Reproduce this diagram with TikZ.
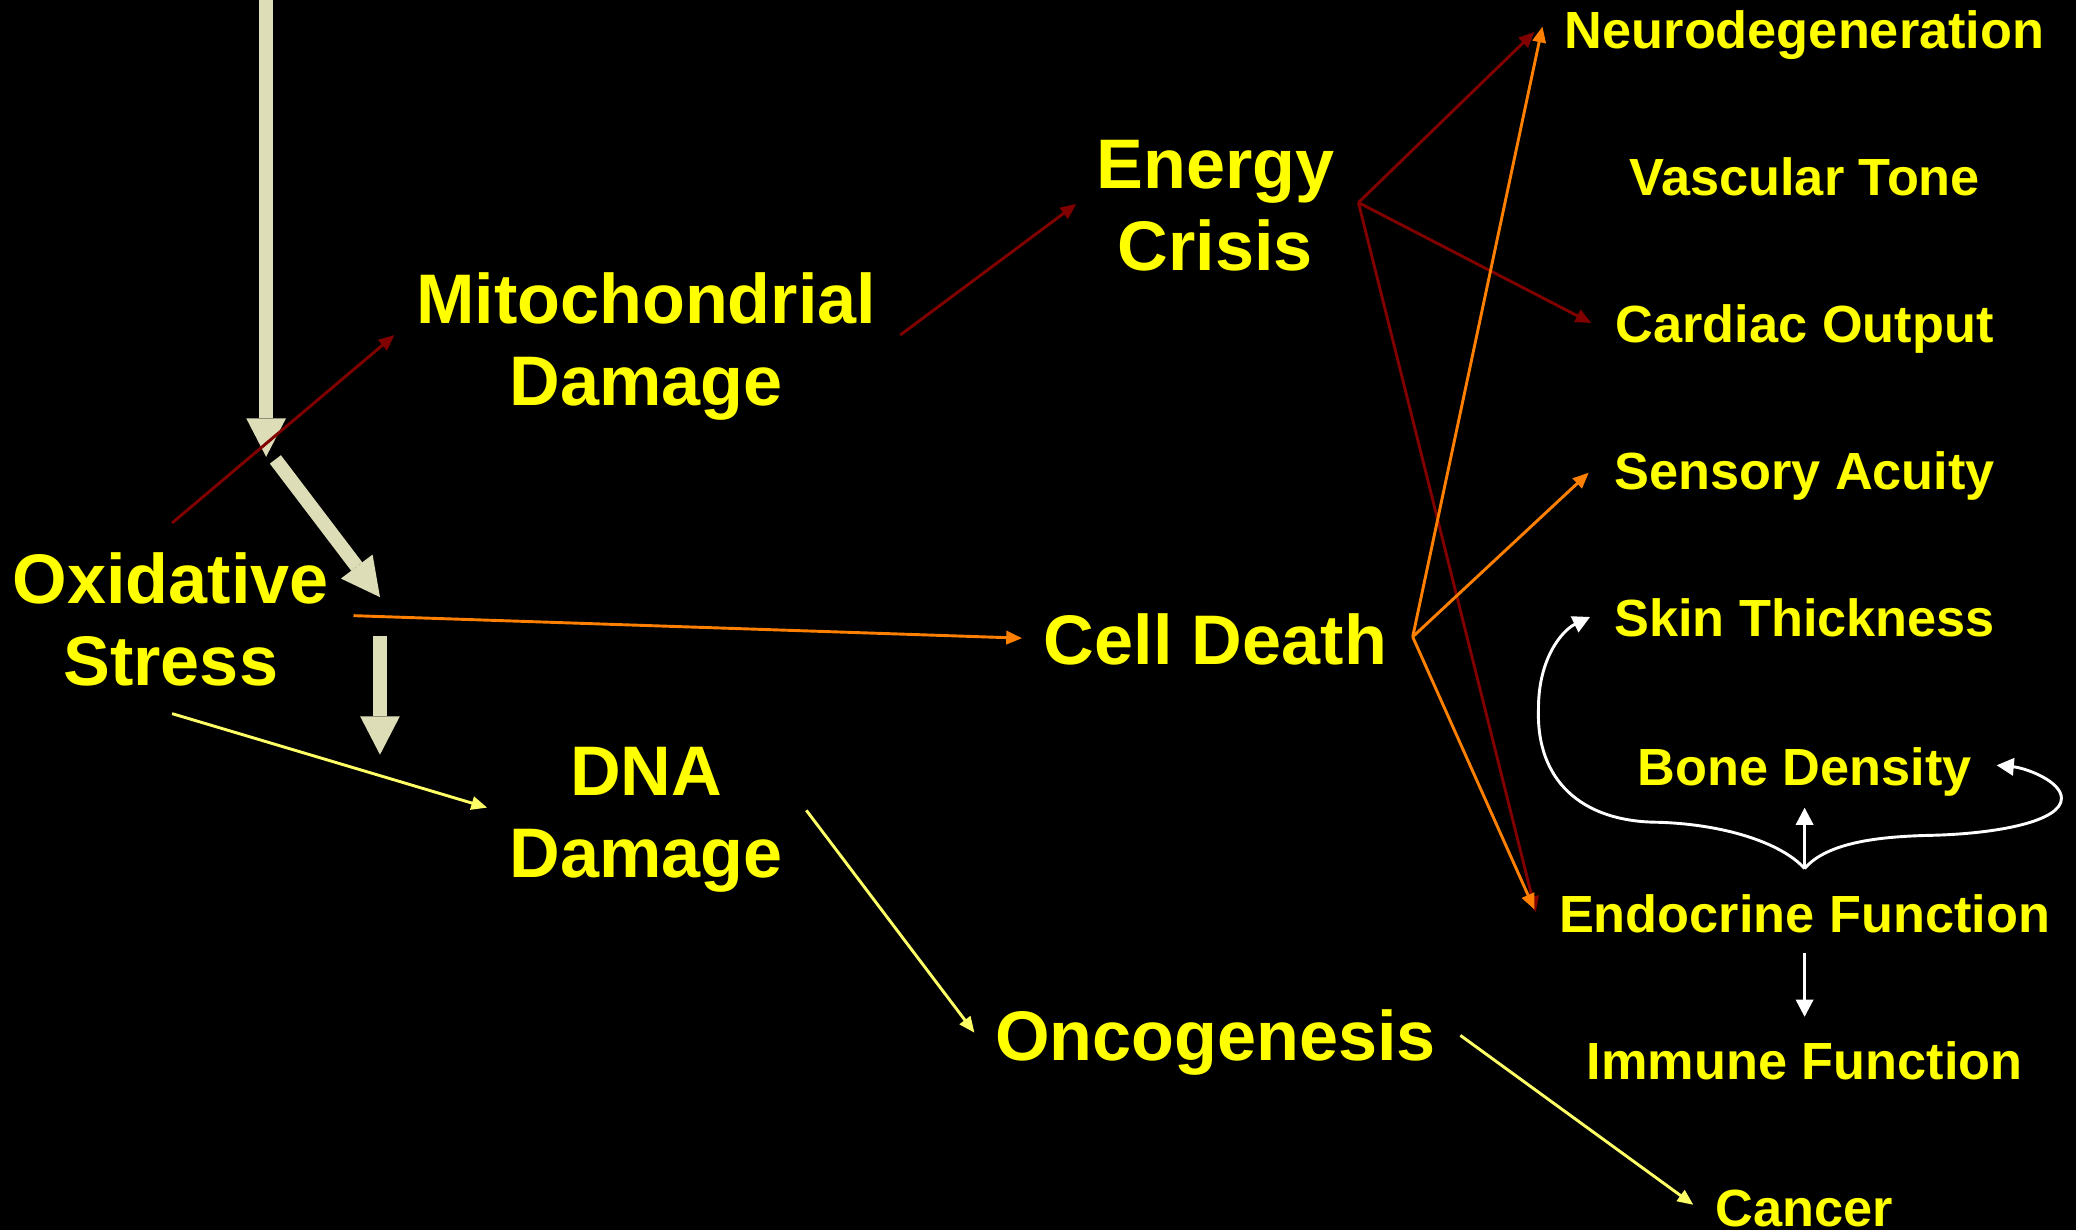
\documentclass[tikz,border=0pt]{standalone}
\usepackage{fontspec}
\setmainfont{Liberation Sans}
\usetikzlibrary{arrows.meta}
\definecolor{dred}{RGB}{128,0,0}
\definecolor{orng}{RGB}{255,128,0}
\definecolor{pyel}{RGB}{255,255,102}
\definecolor{beige}{RGB}{221,221,184}
\definecolor{txt}{RGB}{255,255,0}
\tikzset{
  biglab/.style={text=txt, font=\bfseries\fontsize{53}{62}\selectfont, align=center, anchor=base, inner sep=0pt},
  smalllab/.style={text=txt, font=\bfseries\fontsize{39.5}{45}\selectfont, anchor=base, inner sep=0pt},
  thinarrow/.style={line width=2.2pt, -{Triangle[length=12pt,width=10pt]}},
  fatarrow/.style={line width=10.5pt, draw=beige, -{Triangle[length=29pt,width=30pt,line width=0pt]}},
  whitearrow/.style={draw=white, line width=2.2pt, -{Triangle[length=13pt,width=13pt]}},
}
\begin{document}
\begin{tikzpicture}[x=1pt,y=-1pt]
\fill[black] (0,0) rectangle (1568,929);
\useasboundingbox (0,0) rectangle (1568,929);

% labels (two-line nodes: base = last line baseline)
\node[biglab] (ox) at (129,518) {Oxidative\\Stress};
\node[biglab] (mito) at (488,306) {Mitochondrial\\Damage};
\node[biglab] (energy) at (918,204) {Energy\\Crisis};
\node[biglab] (cell) at (918,502) {Cell Death};
\node[biglab] (dna) at (488,663) {DNA\\Damage};
\node[biglab] (onco) at (918,801) {Oncogenesis};

\node[smalllab] (neuro) at (1363,37) {Neurodegeneration};
\node[smalllab] (vasc) at (1363,148) {Vascular Tone};
\node[smalllab] (cardiac) at (1363,259) {Cardiac Output};
\node[smalllab] (sens) at (1363,370) {Sensory Acuity};
\node[smalllab] (skin) at (1363,481) {Skin Thickness};
\node[smalllab] (bone) at (1363,593) {Bone Density};
\node[smalllab] (endo) at (1363,704) {Endocrine Function};
\node[smalllab] (immune) at (1363,815) {Immune Function};
\node[smalllab] (cancer) at (1363,926) {Cancer};

% coordinates for connector ends
\coordinate (topin) at (201,0);
\coordinate (topout) at (201,345);
\coordinate (diagin) at (208,347);
\coordinate (diagout) at (287,451);
\coordinate (shortin) at (287,480);
\coordinate (shortout) at (287,570);

\coordinate (oxA) at (130,395);
\coordinate (mitoIn) at (298,253);
\coordinate (mitoOut) at (680,253);
\coordinate (enIn) at (813,154);
\coordinate (enOut) at (1026,153);
\coordinate (neuroInR) at (1159,24);
\coordinate (neuroInO) at (1165,20);
\coordinate (cardIn) at (1202,244);
\coordinate (endoInR) at (1160,689);
\coordinate (endoInO) at (1159,687);
\coordinate (oxB) at (267,465);
\coordinate (cellIn) at (772,482);
\coordinate (cellOut) at (1067,481);
\coordinate (sensIn) at (1200,357);
\coordinate (oxC) at (130,539);
\coordinate (dnaIn) at (368,610);
\coordinate (dnaOut) at (609,612);
\coordinate (oncoIn) at (736,780);
\coordinate (oncoOut) at (1103,782);
\coordinate (cancerIn) at (1279,910);
\coordinate (endoOut) at (1363,720);
\coordinate (immuneIn) at (1363,768);
\coordinate (junc) at (1363,656);
\coordinate (boneIn) at (1363,610);
\coordinate (skinIn) at (1201,466);
\coordinate (boneInR) at (1508,578);

% big arrows
\draw[fatarrow] (topin) -- (topout);
\draw[fatarrow] (diagin) -- (diagout);
\draw[fatarrow] (shortin) -- (shortout);

% dark red
\draw[thinarrow, draw=dred, fill=dred] (oxA) -- (mitoIn);
\draw[thinarrow, draw=dred, fill=dred] (mitoOut) -- (enIn);
\draw[thinarrow, draw=dred, fill=dred] (enOut) -- (neuroInR);
\draw[thinarrow, draw=dred, fill=dred] (enOut) -- (cardIn);
\draw[thinarrow, draw=dred, fill=dred] (enOut) -- (endoInR);

% orange
\draw[thinarrow, draw=orng, fill=orng] (oxB) -- (cellIn);
\draw[thinarrow, draw=orng, fill=orng] (cellOut) -- (neuroInO);
\draw[thinarrow, draw=orng, fill=orng] (cellOut) -- (sensIn);
\draw[thinarrow, draw=orng, fill=orng] (cellOut) -- (endoInO);

% yellow
\draw[thinarrow, draw=pyel, fill=pyel] (oxC) -- (dnaIn);
\draw[thinarrow, draw=pyel, fill=pyel] (dnaOut) -- (oncoIn);
\draw[thinarrow, draw=pyel, fill=pyel] (oncoOut) -- (cancerIn);

% white
\draw[whitearrow] (endoOut) -- (immuneIn);
\draw[whitearrow] (junc) -- (boneIn);
\draw[whitearrow] (junc) .. controls (1345,636) and (1300,622) .. (1250,621)
  .. controls (1195,620) and (1160,590) .. (1162,535)
  .. controls (1162,497) and (1180,476) .. (skinIn);
\draw[whitearrow] (junc) .. controls (1380,636) and (1420,632) .. (1455,631)
  .. controls (1510,630) and (1557,620) .. (1557,603)
  .. controls (1557,590) and (1530,580) .. (boneInR);
\end{tikzpicture}
\end{document}
